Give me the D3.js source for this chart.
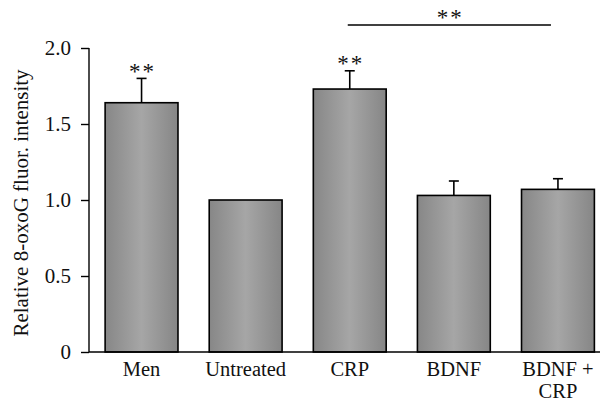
<!DOCTYPE html>
<html>
<head>
<meta charset="utf-8">
<script src="https://cdn.jsdelivr.net/npm/d3@7"></script>
<style>
  html, body { margin: 0; padding: 0; background: #fff; }
  svg { display: block; }
  text { font-family: "Liberation Serif", "Times New Roman", serif; fill: #111; }
</style>
</head>
<body>
<svg id="chart" width="607" height="402"></svg>
<script>
// ---- data ----
const categories = ["Men", "Untreated", "CRP", "BDNF", "BDNF + CRP"];
const categoryLines = [["Men"], ["Untreated"], ["CRP"], ["BDNF"], ["BDNF +", "CRP"]];
const values = [1.64, 1.00, 1.73, 1.03, 1.07];
const errorTops = [1.80, 1.00, 1.85, 1.125, 1.14];
const significance = ["**", "", "**", "", ""];
const yTicks = [0, 0.5, 1.0, 1.5, 2.0];
const yTickLabels = ["0", "0.5", "1.0", "1.5", "2.0"];
const bracket = { from: "CRP", to: "BDNF + CRP", label: "**" };
const yLabel = "Relative 8-oxoG fluor. intensity";

// ---- layout ----
const svg = d3.select("#chart");
const axisX = 89, baseY = 352, topY = 48;
const fs = 21;
const xfs = 20.5;
const starFs = 23;

const x = d3.scaleBand().domain(categories).range([89.5, 610]).paddingInner(0.3).paddingOuter(0.15);
const y = d3.scaleLinear().domain([0, 2]).range([baseY, topY]);

// gradient
const defs = svg.append("defs");
const grad = defs.append("linearGradient").attr("id", "barGrad")
  .attr("x1", "0%").attr("x2", "100%").attr("y1", "0%").attr("y2", "0%");
grad.append("stop").attr("offset", "0%").attr("stop-color", "#878787");
grad.append("stop").attr("offset", "50%").attr("stop-color", "#a6a6a6");
grad.append("stop").attr("offset", "100%").attr("stop-color", "#868686");

// error bars (behind bars)
const capW = 10;
const eb = svg.append("g").attr("stroke", "#000").attr("stroke-width", 1.6);
categories.forEach((c, i) => {
  if (errorTops[i] <= values[i]) return;
  const cx = x(c) + x.bandwidth() / 2;
  eb.append("line").attr("x1", cx).attr("x2", cx).attr("y1", y(values[i])).attr("y2", y(errorTops[i]));
  eb.append("line").attr("x1", cx - capW / 2).attr("x2", cx + capW / 2).attr("y1", y(errorTops[i])).attr("y2", y(errorTops[i]));
});

// bars
svg.append("g").selectAll("rect").data(categories).join("rect")
  .attr("x", d => x(d))
  .attr("y", (d, i) => y(values[i]))
  .attr("width", x.bandwidth())
  .attr("height", (d, i) => baseY - y(values[i]))
  .attr("fill", "url(#barGrad)")
  .attr("stroke", "#000").attr("stroke-width", 1.6);

// significance stars above bars
svg.append("g").selectAll("text").data(categories).join("text")
  .attr("x", d => x(d) + x.bandwidth() / 2 + 1)
  .attr("y", (d, i) => y(errorTops[i]) + 0.5)
  .attr("text-anchor", "middle")
  .attr("font-size", starFs)
  .attr("letter-spacing", 2)
  .attr("fill", "#333")
  .text((d, i) => significance[i]);

// bracket
const bx1 = x(bracket.from) + x.bandwidth() / 2 - 2;
const bx2 = x(bracket.to) + x.bandwidth() / 2 - 7;
svg.append("line").attr("x1", bx1).attr("x2", bx2).attr("y1", 25).attr("y2", 25)
  .attr("stroke", "#000").attr("stroke-width", 1.4);
svg.append("text").attr("x", (bx1 + bx2) / 2 + 1).attr("y", 25)
  .attr("text-anchor", "middle").attr("font-size", starFs).attr("letter-spacing", 2)
  .attr("fill", "#333")
  .text(bracket.label);

// y axis
const yAxis = d3.axisLeft(y).tickValues(yTicks).tickSize(8).tickPadding(10)
  .tickFormat((d, i) => yTickLabels[i]);
const gy = svg.append("g").attr("transform", `translate(${axisX},0)`).call(yAxis);
gy.select(".domain").remove();
gy.selectAll("line").attr("stroke", "#000").attr("stroke-width", 1.4);
gy.selectAll("text").attr("font-size", fs).attr("font-family", "Liberation Serif, serif").attr("fill", "#111");
svg.append("line").attr("x1", axisX).attr("x2", axisX).attr("y1", y(2)).attr("y2", baseY)
  .attr("stroke", "#000").attr("stroke-width", 1.4);

// baseline
svg.append("line").attr("x1", axisX).attr("x2", 600).attr("y1", baseY).attr("y2", baseY)
  .attr("stroke", "#000").attr("stroke-width", 1.4);

// x labels (one text element per line)
const xg = svg.append("g");
categories.forEach((c, i) => {
  categoryLines[i].forEach((line, j) => {
    xg.append("text")
      .attr("x", x(c) + x.bandwidth() / 2)
      .attr("y", 375.5 + j * 22.5)
      .attr("text-anchor", "middle")
      .attr("font-size", xfs)
      .text(line);
  });
});

// y label
svg.append("text")
  .attr("transform", "translate(28,203) rotate(-90)")
  .attr("text-anchor", "middle")
  .attr("font-size", fs)
  .text(yLabel);
</script>
</body>
</html>
